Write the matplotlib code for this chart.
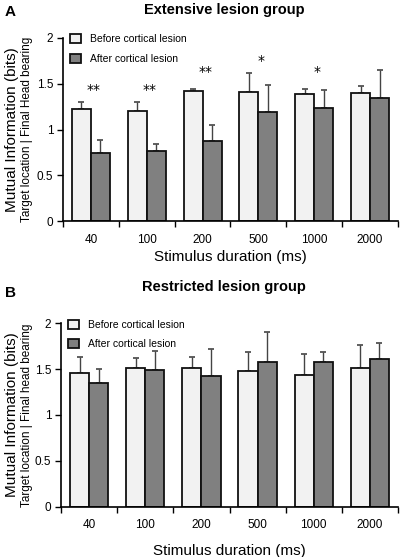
import matplotlib
matplotlib.use("Agg")
import matplotlib.pyplot as plt
import numpy as np

plt.rcParams['font.family'] = ['Liberation Sans', 'DejaVu Sans']

durations = ["40", "100", "200", "500", "1000", "2000"]

ext_before = [1.22, 1.20, 1.42, 1.41, 1.39, 1.40]
ext_before_err = [0.08, 0.10, 0.02, 0.21, 0.05, 0.07]
ext_after = [0.74, 0.77, 0.87, 1.19, 1.24, 1.34]
ext_after_err = [0.14, 0.07, 0.18, 0.30, 0.19, 0.31]
ext_stars = ["**", "**", "**", "*", "*", ""]
ext_star_y = [1.43, 1.43, 1.63, 1.75, 1.63, 0]

res_before = [1.46, 1.51, 1.51, 1.48, 1.44, 1.51]
res_before_err = [0.17, 0.11, 0.12, 0.21, 0.23, 0.25]
res_after = [1.35, 1.49, 1.43, 1.58, 1.58, 1.61]
res_after_err = [0.15, 0.21, 0.29, 0.32, 0.11, 0.18]

fig = plt.figure(figsize=(4.0, 5.57), dpi=100)

def panel(rect, before, berr, after, aerr, title, letter, second_label, title_y, letter_y,
          xlabel_pad, stars=None, star_y=None):
    ax = fig.add_axes(rect)
    x = np.arange(len(durations))
    w = 0.34
    ax.bar(x - w/2, before, w, color="#f2f2f2", edgecolor="#111111", linewidth=1.3,
           label="Before cortical lesion", zorder=2)
    ax.bar(x + w/2, after, w, color="#808080", edgecolor="#111111", linewidth=1.3,
           label="After cortical lesion", zorder=2)
    ax.errorbar(x - w/2, before, yerr=[np.zeros(len(x)), berr], fmt='none',
                ecolor="#444444", elinewidth=1.0, capsize=2.5, capthick=1.2, zorder=1)
    ax.errorbar(x + w/2, after, yerr=[np.zeros(len(x)), aerr], fmt='none',
                ecolor="#444444", elinewidth=1.0, capsize=2.5, capthick=1.2, zorder=1)
    if stars is not None:
        for xi, s, sy in zip(x, stars, star_y):
            if s:
                ax.text(xi + 0.05, sy, s, ha='center', va='center', fontsize=10,
                        family='DejaVu Sans')
    ax.set_xlim(-0.5, len(x) - 0.5)
    ax.set_ylim(0, 2)
    ax.set_yticks([0, 0.5, 1, 1.5, 2])
    ax.set_yticklabels(["0", "0.5", "1", "1.5", "2"], fontsize=8.5)
    ax.set_xticks(x)
    ax.set_xticklabels(durations, fontsize=8.5)
    ax.set_xticks(np.arange(-0.5, len(x)), minor=True)
    ax.tick_params(axis='x', which='major', length=0, pad=9)
    ax.tick_params(axis='x', which='minor', length=4, width=1, direction='out')
    ax.tick_params(axis='y', length=4, width=1, direction='out', pad=3)
    for s in ['top', 'right']:
        ax.spines[s].set_visible(False)
    for s in ['left', 'bottom']:
        ax.spines[s].set_linewidth(1.2)
    ax.set_xlabel("Stimulus duration (ms)", fontsize=11, labelpad=xlabel_pad)
    ax.legend(loc='upper left', bbox_to_anchor=(0.0, 1.06), frameon=False,
              fontsize=7.5, handlelength=1.0, handleheight=1.0, labelspacing=0.9,
              handletextpad=0.9, borderaxespad=0.3)
    bb = ax.get_position()
    yc = (bb.y0 + bb.y1) / 2
    fig.text(0.03, yc, "Mutual Information (bits)", rotation=90, ha='center', va='center', fontsize=11)
    fig.text(0.068, yc, second_label, rotation=90, ha='center', va='center', fontsize=8.5)
    fig.text(0.56, title_y, title, ha='center', va='center', fontsize=10.5, fontweight='bold')
    fig.text(0.012, letter_y, letter, ha='left', va='center', fontsize=11, fontweight='bold')
    return ax

panel([0.1575, 0.603, 0.8375, 0.329], ext_before, ext_before_err, ext_after, ext_after_err,
      "Extensive lesion group", "A", "Target location | Final Head bearing",
      1 - 10/557, 1 - 12/557, 3, ext_stars, ext_star_y)
panel([0.1525, 0.0903, 0.8425, 0.3293], res_before, res_before_err, res_after, res_after_err,
      "Restricted lesion group", "B", "Target location | Final head bearing",
      1 - 287/557, 1 - 293/557, 9)

fig.savefig("out.png", dpi=100)
